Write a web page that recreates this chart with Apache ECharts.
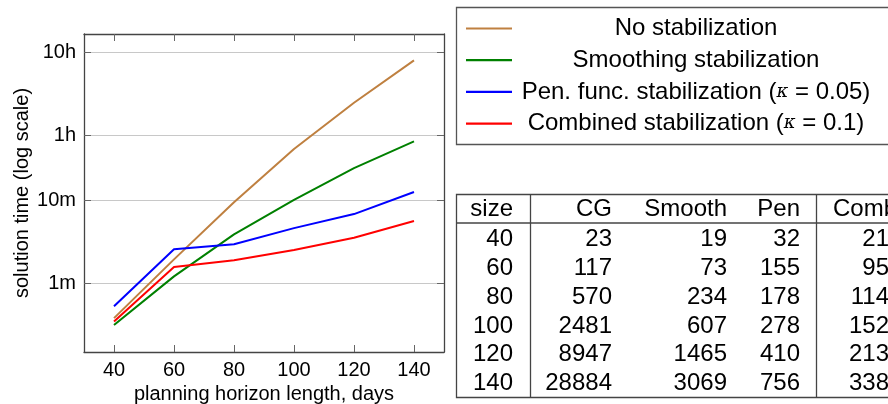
<!DOCTYPE html>
<html>
<head>
<meta charset="utf-8">
<script src="https://cdn.jsdelivr.net/npm/echarts@6/dist/echarts.min.js"></script>
<style>
  html, body { margin: 0; padding: 0; background: #fff; }
  #main { width: 888px; height: 404px; }
</style>
</head>
<body>
<div id="main"></div>
<script>
// planning horizon (days) and solution time in seconds
const days = [40, 60, 80, 100, 120, 140];
const cgTime = [23, 117, 570, 2481, 8947, 28884];
const smoothTime = [19, 73, 234, 607, 1465, 3069];
const penTime = [32, 155, 178, 278, 410, 756];
const combTime = [21, 95, 114, 152, 213, 338];

const yTickValues = [60, 600, 3600, 36000];
const yTickLabels = ['1m', '10m', '1h', '10h'];

const seriesNames = [
  'No stabilization',
  'Smoothing stabilization',
  'Pen. func. stabilization (κ = 0.05)',
  'Combined stabilization (κ = 0.1)'
];
const legendTexts = [
  'No stabilization',
  'Smoothing stabilization',
  'Pen. func. stabilization ({k|κ} = 0.05)',
  'Combined stabilization ({k|κ} = 0.1)'
];
const seriesColors = ['#bf8040', '#008000', '#0000ff', '#ff0000'];
const tableHeader = ['size', 'CG', 'Smooth', 'Pen', 'Comb'];

const FONT = 'Liberation Sans, Arial, sans-serif';
const allTimes = [cgTime, smoothTime, penTime, combTime];

function yLabel(v) {
  let best = 0;
  for (let i = 1; i < yTickValues.length; i++) {
    if (Math.abs(Math.log(yTickValues[i] / v)) < Math.abs(Math.log(yTickValues[best] / v))) best = i;
  }
  return yTickLabels[best];
}

// legend box drawn by hand, text centred like the original
const graphics = [];
graphics.push({
  type: 'rect', shape: { x: 456.5, y: 7.5, width: 500, height: 137 },
  style: { fill: '#fff', stroke: '#555', lineWidth: 1.3 }, z: 10
});
legendTexts.forEach(function (t, i) {
  const y = 28.5 + i * 31.7;
  graphics.push({
    type: 'line', shape: { x1: 466, y1: y, x2: 512, y2: y },
    style: { stroke: seriesColors[i], lineWidth: 2.2 }, z: 11
  });
  graphics.push({
    type: 'text', x: 696, y: y,
    style: {
      text: t, font: '24px ' + FONT, fill: '#000', align: 'center', verticalAlign: 'middle',
      rich: { k: { fontFamily: 'DejaVu Serif', fontStyle: 'italic', fontSize: 18 } }
    }, z: 11
  });
});

// data table
const colRight = [513, 612, 727, 800, 889];
const headY = 209;
const rowY0 = 239.5;
const rowStep = 28.8;
graphics.push({
  type: 'rect', shape: { x: 456.5, y: 194.5, width: 500, height: 203 },
  style: { fill: 'none', stroke: '#444', lineWidth: 1.3 }, z: 10
});
graphics.push({ type: 'line', shape: { x1: 456, y1: 223, x2: 888, y2: 223 }, style: { stroke: '#444', lineWidth: 1.3 }, z: 10 });
graphics.push({ type: 'line', shape: { x1: 530.5, y1: 194, x2: 530.5, y2: 398 }, style: { stroke: '#444', lineWidth: 1.3 }, z: 10 });
graphics.push({ type: 'line', shape: { x1: 816.5, y1: 194, x2: 816.5, y2: 398 }, style: { stroke: '#444', lineWidth: 1.3 }, z: 10 });
tableHeader.forEach(function (h, c) {
  graphics.push({
    type: 'text', x: c === 4 ? 833 : colRight[c], y: headY,
    style: { text: h, font: '24px ' + FONT, fill: '#000', align: c === 4 ? 'left' : 'right', verticalAlign: 'middle' }, z: 11
  });
});
days.forEach(function (d, r) {
  const cells = [d].concat(allTimes.map(function (a) { return a[r]; }));
  cells.forEach(function (v, c) {
    graphics.push({
      type: 'text', x: colRight[c], y: rowY0 + r * rowStep,
      style: { text: String(v), font: '24px ' + FONT, fill: '#000', align: 'right', verticalAlign: 'middle' }, z: 11
    });
  });
});

const axisColor = '#444';
const chart = echarts.init(document.getElementById('main'), null, { renderer: 'canvas' });
const option = {
  animation: false,
  backgroundColor: '#fff',
  grid: { left: 84, right: 444, top: 34, bottom: 52, containLabel: false, outerBoundsMode: 'none' },
  xAxis: [{
    type: 'value', min: 30, max: 150, position: 'bottom',
    name: 'planning horizon length, days', nameLocation: 'middle', nameGap: 32,
    nameTextStyle: { fontFamily: FONT, fontSize: 20, color: '#000' },
    axisLine: { show: true, lineStyle: { color: axisColor, width: 1.3 } },
    axisTick: { show: true, inside: true, length: 7, customValues: days, lineStyle: { color: '#666' } },
    axisLabel: { customValues: days, margin: 8, fontFamily: FONT, fontSize: 20, color: '#000' },
    splitLine: { show: false }
  }, {
    type: 'value', min: 30, max: 150, position: 'top',
    axisLine: { show: true, lineStyle: { color: axisColor, width: 1.3 } },
    axisTick: { show: true, inside: true, length: 7, customValues: days, lineStyle: { color: '#666' } },
    axisLabel: { show: false },
    splitLine: { show: false }
  }],
  yAxis: [{
    type: 'log', logBase: 10, min: 9, max: 60000, position: 'left',
    name: 'solution time (log scale)', nameLocation: 'middle', nameGap: 52,
    nameTextStyle: { fontFamily: FONT, fontSize: 20, color: '#000' },
    axisLine: { show: true, lineStyle: { color: axisColor, width: 1.3 } },
    axisTick: { show: true, inside: true, length: 7, customValues: yTickValues, lineStyle: { color: '#666' } },
    axisLabel: { customValues: yTickValues, margin: 8, fontFamily: FONT, fontSize: 20, color: '#000', formatter: yLabel },
    splitLine: { show: true, lineStyle: { color: '#c8c8c8', width: 1 } },
    minorTick: { show: false }
  }, {
    type: 'log', logBase: 10, min: 9, max: 60000, position: 'right',
    axisLine: { show: true, lineStyle: { color: axisColor, width: 1.3 } },
    axisTick: { show: true, inside: true, length: 7, customValues: yTickValues, lineStyle: { color: '#666' } },
    axisLabel: { show: false },
    splitLine: { show: false }
  }],
  series: allTimes.map(function (vals, i) {
    return {
      name: seriesNames[i], type: 'line', xAxisIndex: 0, yAxisIndex: 0,
      data: days.map(function (d, j) { return [d, vals[j]]; }),
      symbol: 'none', silent: true,
      lineStyle: { color: seriesColors[i], width: 2 }
    };
  }),
  graphic: graphics
};
chart.setOption(option);
</script>
</body>
</html>
